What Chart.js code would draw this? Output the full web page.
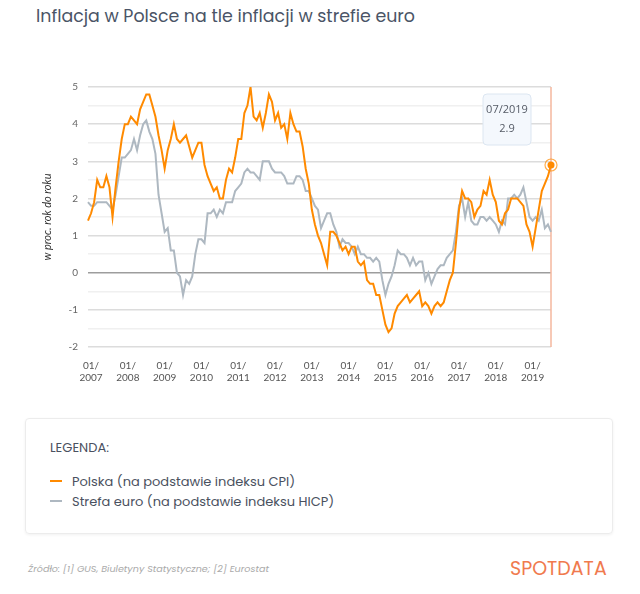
<!DOCTYPE html>
<html>
<head>
<meta charset="utf-8">
<script src="https://cdn.jsdelivr.net/npm/chart.js@4.4.1/dist/chart.umd.min.js"></script>
<style>
  html, body { margin: 0; padding: 0; background: #fff; }
  body { width: 640px; height: 594px; position: relative; overflow: hidden; font-family: 'Poppins', 'Open Sans', sans-serif; }
  #title { position: absolute; left: 36px; top: 3px; font-size: 17.4px; color: #4a5466; white-space: nowrap; }
  #wrap { position: absolute; left: 0; top: 0; width: 640px; height: 400px; }
  #legend { position: absolute; left: 25px; top: 418px; width: 588px; height: 116px; border: 1px solid #ececec; border-radius: 4px; box-shadow: 0 1px 3px rgba(0,0,0,0.06); box-sizing: border-box; }
  #legend .head { position: absolute; left: 24px; top: 19px; font-size: 13px; color: #4a5160; }
  #legend .item { position: absolute; left: 24px; font-size: 13px; color: #4a5160; white-space: nowrap; }
  #legend .item i { display: inline-block; width: 12px; height: 2px; vertical-align: middle; margin-right: 10px; position: relative; top: -1px; }
  #src { position: absolute; left: 28px; top: 562px; font-size: 9.6px; font-style: italic; color: #aaaaaa; }
  #logo { position: absolute; left: 510px; top: 554px; font-size: 19px; color: #f07a4e; }
</style>
</head>
<body>
<div id="title">Inflacja w Polsce na tle inflacji w strefie euro</div>
<div id="wrap"><canvas id="chart"></canvas></div>
<div id="legend">
  <div class="head">LEGENDA:</div>
  <div class="item" style="top:53px"><i style="background:#ff8a00"></i>Polska (na podstawie indeksu CPI)</div>
  <div class="item" style="top:73px"><i style="background:#aeb8c1"></i>Strefa euro (na podstawie indeksu HICP)</div>
</div>
<div id="src">Źródło: [1] GUS, Biuletyny Statystyczne; [2] Eurostat</div>
<div id="logo">SPOTDATA</div>
<script>
// miesiące 12/2006 - 07/2019
var months = [];
for (var y = 2006; y <= 2019; y++) {
  for (var m = 1; m <= 12; m++) {
    if (y === 2006 && m < 12) continue;
    if (y === 2019 && m > 7) break;
    months.push((m < 10 ? '0' + m : '' + m) + '/' + y);
  }
}

var polska = [
  1.4,
  1.6, 1.9, 2.5, 2.3, 2.3, 2.6, 2.3, 1.5, 2.3, 3.0, 3.6, 4.0,
  4.0, 4.2, 4.1, 4.0, 4.4, 4.6, 4.8, 4.8, 4.5, 4.2, 3.7, 3.3,
  2.8, 3.3, 3.6, 4.0, 3.6, 3.5, 3.6, 3.7, 3.4, 3.1, 3.3, 3.5,
  3.5, 2.9, 2.6, 2.4, 2.2, 2.3, 2.0, 2.0, 2.5, 2.8, 2.7, 3.1,
  3.6, 3.6, 4.3, 4.5, 5.0, 4.2, 4.1, 4.3, 3.9, 4.3, 4.8, 4.6,
  4.1, 4.3, 3.9, 4.0, 3.6, 4.3, 4.0, 3.8, 3.8, 3.4, 2.8, 2.4,
  1.7, 1.3, 1.0, 0.8, 0.5, 0.2, 1.1, 1.1, 1.0, 0.8, 0.6, 0.7,
  0.5, 0.7, 0.7, 0.3, 0.2, 0.3, -0.2, -0.3, -0.3, -0.6, -0.6, -1.0,
  -1.4, -1.6, -1.5, -1.1, -0.9, -0.8, -0.7, -0.6, -0.8, -0.7, -0.6, -0.5,
  -0.9, -0.8, -0.9, -1.1, -0.9, -0.8, -0.9, -0.8, -0.5, -0.2, 0.0, 0.8,
  1.7, 2.2, 2.0, 2.0, 1.9, 1.5, 1.7, 1.8, 2.2, 2.1, 2.5, 2.1,
  1.9, 1.4, 1.3, 1.6, 1.7, 2.0, 2.0, 2.0, 1.9, 1.8, 1.3, 1.1,
  0.7, 1.2, 1.7, 2.2, 2.4, 2.6, 2.9
];

var strefaEuro = [
  1.9,
  1.8, 1.8, 1.9, 1.9, 1.9, 1.9, 1.8, 1.7, 2.1, 2.6, 3.1, 3.1,
  3.2, 3.3, 3.6, 3.3, 3.7, 4.0, 4.1, 3.8, 3.6, 3.2, 2.1, 1.6,
  1.1, 1.2, 0.6, 0.6, 0.0, -0.1, -0.6, -0.2, -0.3, -0.1, 0.5, 0.9,
  0.9, 0.8, 1.6, 1.6, 1.7, 1.5, 1.7, 1.6, 1.9, 1.9, 1.9, 2.2,
  2.3, 2.4, 2.7, 2.8, 2.7, 2.7, 2.6, 2.5, 3.0, 3.0, 3.0, 2.8,
  2.7, 2.7, 2.7, 2.6, 2.4, 2.4, 2.4, 2.6, 2.6, 2.5, 2.2, 2.2,
  2.0, 1.8, 1.7, 1.2, 1.4, 1.6, 1.6, 1.3, 1.1, 0.7, 0.9, 0.8,
  0.8, 0.7, 0.5, 0.7, 0.5, 0.5, 0.4, 0.4, 0.3, 0.4, 0.3, -0.2,
  -0.6, -0.3, -0.1, 0.2, 0.6, 0.5, 0.5, 0.4, 0.2, 0.4, 0.2, 0.3,
  0.3, -0.2, 0.0, -0.3, -0.1, 0.1, 0.2, 0.2, 0.4, 0.5, 0.6, 1.1,
  1.8, 2.0, 1.5, 1.9, 1.4, 1.3, 1.3, 1.5, 1.5, 1.4, 1.5, 1.4,
  1.3, 1.1, 1.4, 1.3, 2.0, 2.0, 2.1, 2.0, 2.1, 2.3, 1.9, 1.5,
  1.4, 1.5, 1.4, 1.7, 1.2, 1.3, 1.1
];

var yMin = -2, yMax = 5;
var orange = '#ff8a00';
var grey = '#aeb8c1';
var last = polska.length - 1;

// pionowa linia + dymek dla ostatniego punktu
var hoverPlugin = {
  id: 'hover',
  beforeDatasetsDraw: function (chart) {
    var p = chart.getDatasetMeta(0).data[last];
    var ctx = chart.ctx, a = chart.chartArea;
    ctx.save();
    ctx.strokeStyle = '#f5b79e';
    ctx.lineWidth = 1.5;
    ctx.beginPath();
    ctx.moveTo(p.x, a.top);
    ctx.lineTo(p.x, a.bottom);
    ctx.stroke();
    ctx.restore();
  },
  afterDatasetsDraw: function (chart) {
    var p = chart.getDatasetMeta(0).data[last];
    var ctx = chart.ctx, a = chart.chartArea;
    ctx.save();
    ctx.strokeStyle = 'rgba(255,138,0,0.7)';
    ctx.lineWidth = 1.2;
    ctx.beginPath();
    ctx.arc(p.x, p.y, 6, 0, Math.PI * 2);
    ctx.stroke();

    var w = 48, h = 51, bx = p.x - 68, by = a.top + 7;
    ctx.fillStyle = '#f4f8fd';
    ctx.strokeStyle = '#dce6f1';
    ctx.lineWidth = 1;
    ctx.beginPath();
    ctx.roundRect(bx, by, w, h, 4);
    ctx.fill();
    ctx.stroke();
    ctx.fillStyle = '#555b66';
    ctx.font = '11px "Open Sans", sans-serif';
    ctx.textAlign = 'center';
    ctx.textBaseline = 'middle';
    ctx.fillText(months[last], bx + w / 2, by + 16);
    ctx.fillText(String(polska[last]), bx + w / 2, by + 35);
    ctx.restore();
  }
};

new Chart(document.getElementById('chart').getContext('2d'), {
  type: 'line',
  data: {
    labels: months,
    datasets: [{
      label: 'Polska (na podstawie indeksu CPI)',
      data: polska,
      borderColor: orange,
      backgroundColor: orange,
      borderWidth: 2,
      tension: 0,
      pointRadius: function (c) { return c.dataIndex === last ? 3.5 : 0; },
      pointBorderWidth: 0,
      pointBackgroundColor: orange
    }, {
      label: 'Strefa euro (na podstawie indeksu HICP)',
      data: strefaEuro,
      borderColor: grey,
      backgroundColor: grey,
      borderWidth: 2,
      tension: 0,
      pointRadius: 0
    }]
  },
  options: {
    responsive: true,
    maintainAspectRatio: false,
    animation: false,
    events: [],
    layout: { padding: { left: 37, right: 89, top: 87, bottom: 0 } },
    plugins: {
      legend: { display: false },
      tooltip: { enabled: false }
    },
    scales: {
      x: {
        grid: { display: false },
        border: { display: false },
        afterFit: function (s) { s.height = 53; },
        ticks: {
          autoSkip: false,
          maxRotation: 0,
          padding: 5,
          color: '#555',
          font: { family: 'Lato', size: 10 },
          callback: function (v, i) {
            var lbl = months[i];
            return lbl.slice(0, 2) === '01' ? ['01/', lbl.slice(3)] : '';
          }
        }
      },
      y: {
        min: yMin,
        max: yMax,
        afterFit: function (s) { s.width = 51; },
        border: { display: false },
        grid: {
          drawTicks: false,
          lineWidth: 1.5,
          color: function (c) {
            var v = c.tick.value;
            if (v === 0) return '#9d9d9d';
            return Number.isInteger(v) ? '#dcdcdc' : '#f0f0f0';
          }
        },
        ticks: {
          stepSize: 0.5,
          padding: 10,
          color: '#666',
          font: { family: 'Lato', size: 10 },
          callback: function (v) { return Number.isInteger(v) ? v : ''; }
        },
        title: {
          display: true,
          text: 'w proc. rok do roku',
          color: '#333',
          padding: { top: 4, bottom: 0 },
          font: { family: 'Lato', size: 11, style: 'italic' }
        }
      }
    }
  },
  plugins: [hoverPlugin]
});
</script>
</body>
</html>
